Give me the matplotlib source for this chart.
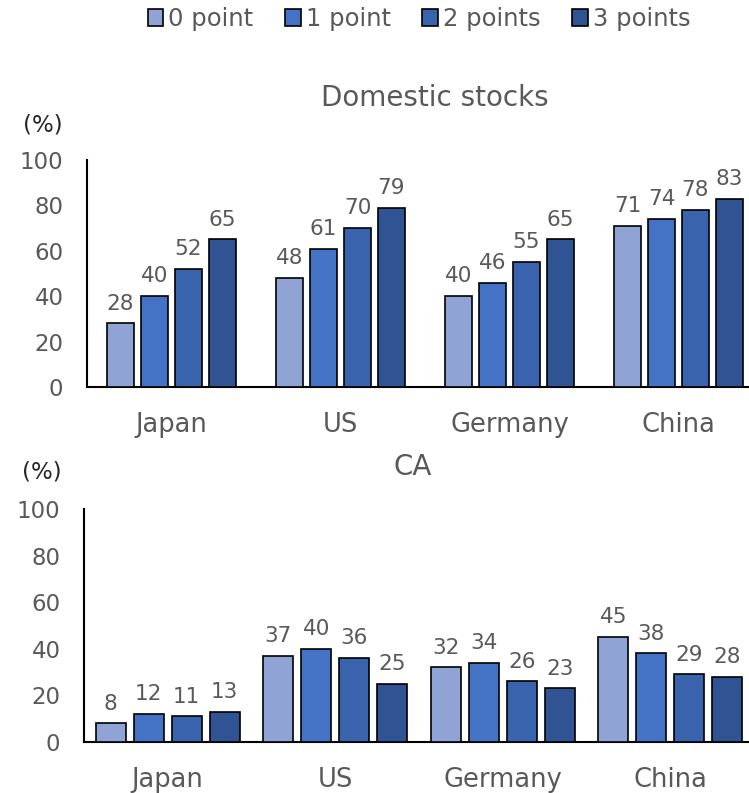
import numpy as np
import matplotlib.pyplot as plt

# Share of respondents holding each asset, by literacy score
countries = ["Japan", "US", "Germany", "China"]
series_names = ["0 point", "1 point", "2 points", "3 points"]
colors = ["#8FA4D5", "#4472C4", "#3A63AE", "#2F5393"]

stocks_0 = [28, 48, 40, 71]
stocks_1 = [40, 61, 46, 74]
stocks_2 = [52, 70, 55, 78]
stocks_3 = [65, 79, 65, 83]

ca_0 = [8, 37, 32, 45]
ca_1 = [12, 40, 34, 38]
ca_2 = [11, 36, 26, 29]
ca_3 = [13, 25, 23, 28]

yticks = [0, 20, 40, 60, 80, 100]
grey = "#595959"

fig = plt.figure(figsize=(7.49, 7.93), dpi=100)
ax1 = fig.add_axes([87/749, 1-387/793, (763-87)/749, (387-160)/793])
ax2 = fig.add_axes([84/749, 1-742/793, (754-84)/749, (742-509)/793])


def draw_panel(ax, data, width, pitch):
    x = np.arange(len(countries))
    bars = []
    for i, vals in enumerate(data):
        b = ax.bar(x + (i - 1.5) * pitch, vals, width, color=colors[i],
                   edgecolor="black", linewidth=1.2, label=series_names[i],
                   zorder=3)
        bars.append(b)
        for xi, v in zip(x + (i - 1.5) * pitch, vals):
            ax.annotate(str(v), (xi, v), xytext=(0, 7), textcoords="offset points",
                        ha="center", va="bottom", fontsize=15.5, color=grey)
    ax.set_xlim(-0.5, 3.5)
    ax.set_ylim(0, 100)
    ax.set_yticks(yticks)
    ax.set_xticks(x)
    ax.set_xticklabels(countries, fontsize=18.5, color=grey)
    ax.tick_params(axis="x", length=0, pad=18)
    ax.tick_params(axis="y", length=0, pad=17, labelsize=16.5, labelcolor=grey)
    for s in ["top", "right"]:
        ax.spines[s].set_visible(False)
    for s in ["left", "bottom"]:
        ax.spines[s].set_linewidth(1.5)
        ax.spines[s].set_color("black")
    ax.patch.set_alpha(0)
    return bars


bars = draw_panel(ax1, [stocks_0, stocks_1, stocks_2, stocks_3], 0.165, 0.201)
draw_panel(ax2, [ca_0, ca_1, ca_2, ca_3], 0.179, 0.227)

fig.text(435/749, 1-98/793, "Domestic stocks", ha="center", va="center",
         fontsize=20, color=grey)
fig.text(413/749, 1-467/793, "CA", ha="center", va="center",
         fontsize=20, color=grey)
fig.text(43/749, 1-125/793, "(%)", ha="center", va="center", fontsize=16.5, color="#262626")
fig.text(42/749, 1-472/793, "(%)", ha="center", va="center", fontsize=16.5, color="#262626")

fig.legend(handles=bars, labels=series_names, loc="center", ncol=4,
           bbox_to_anchor=(419/749, 1-19/793), frameon=False, fontsize=17.5,
           labelcolor=grey, handlelength=0.65, handleheight=0.65,
           handletextpad=0.2, columnspacing=1.3, borderaxespad=0)

fig.savefig("out.png", dpi=100)
